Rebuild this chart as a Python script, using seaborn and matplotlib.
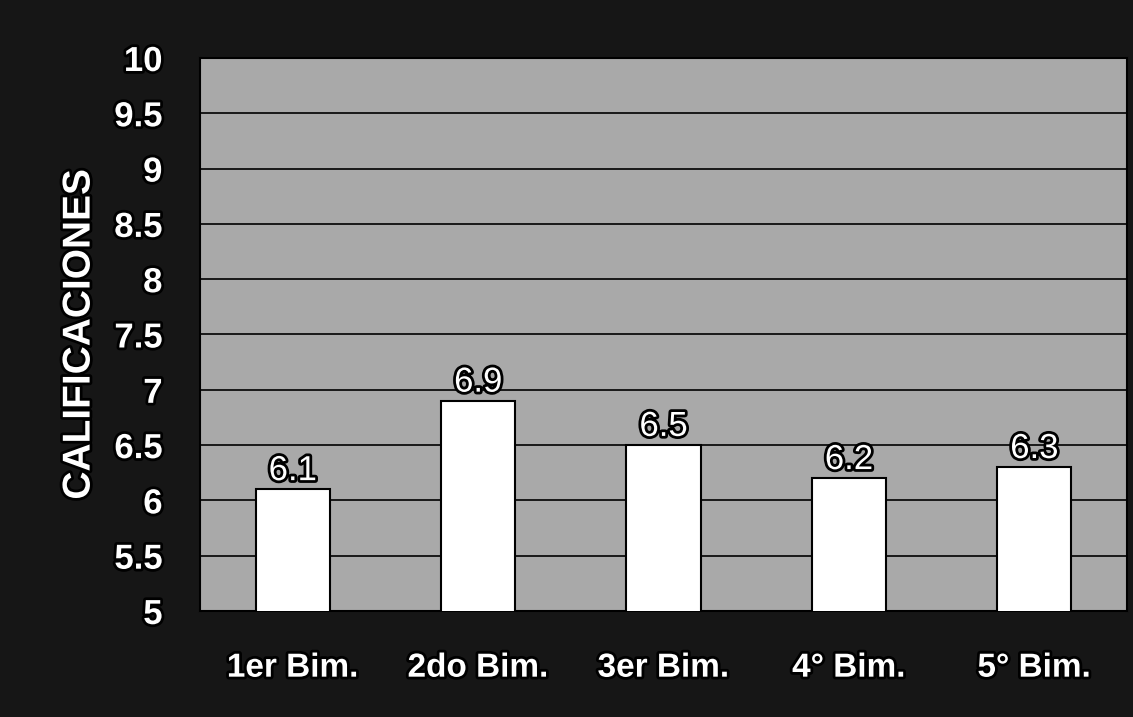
import matplotlib
matplotlib.use('Agg')
import matplotlib.pyplot as plt
import matplotlib.patheffects as pe
import pandas as pd
import seaborn as sns

# data
bimestres = ['1er Bim.', '2do Bim.', '3er Bim.', '4° Bim.', '5° Bim.']
calificaciones = [6.1, 6.9, 6.5, 6.2, 6.3]
y_ticks = [5, 5.5, 6, 6.5, 7, 7.5, 8, 8.5, 9, 9.5, 10]
y_labels = ['5', '5.5', '6', '6.5', '7', '7.5', '8', '8.5', '9', '9.5', '10']

df = pd.DataFrame({'bimestre': bimestres, 'calificacion': calificaciones})

sns.set_theme(style='white')
plt.rcParams['font.family'] = ['Liberation Sans', 'DejaVu Sans']

outline = [pe.withStroke(linewidth=4, foreground='black')]

fig = plt.figure(figsize=(11.33, 7.17), dpi=100, facecolor='#161616')
ax = fig.add_axes([200/1133, 1 - 611/717, 927/1133, 553/717])
ax.set_facecolor('#a9a9a9')

sns.barplot(data=df, x='bimestre', y='calificacion', color='white',
            edgecolor='black', linewidth=1.5, width=0.4, saturation=1,
            ax=ax, zorder=3)

ax.set_ylim(5, 10)
ax.set_xlim(-0.5, 4.5)
ax.set_yticks(y_ticks)
ax.set_yticklabels(y_labels)
ax.yaxis.grid(True, color='black', linewidth=1.2, zorder=0)
ax.set_axisbelow(True)
for s in ax.spines.values():
    s.set_color('black')
    s.set_linewidth(1.5)

ax.tick_params(axis='y', length=0, pad=27, labelsize=25, labelcolor='white')
ax.tick_params(axis='x', length=0, pad=30, labelsize=24, labelcolor='white')
for lab in ax.get_yticklabels() + ax.get_xticklabels():
    lab.set_path_effects(outline)
    lab.set_fontweight('bold')

ax.set_xlabel('')
ax.set_ylabel('CALIFICACIONES', fontsize=28, fontweight='bold', color='white',
              labelpad=12, path_effects=outline)

for i, v in enumerate(calificaciones):
    ax.text(i, v + 0.02, f'{v:.1f}', ha='center', va='bottom', fontsize=25,
            color='white', path_effects=outline, zorder=4)

fig.savefig('out.png', dpi=100, facecolor=fig.get_facecolor())
